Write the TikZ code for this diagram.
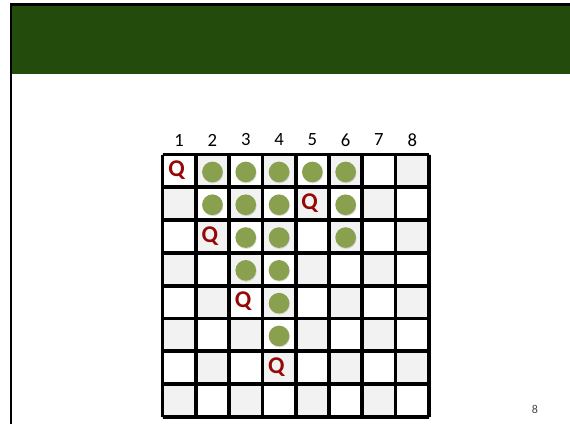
\documentclass[tikz,border=0pt]{standalone}
\usepackage{fontspec}
\setmainfont{Carlito}
\usepackage{xcolor}
\definecolor{cabecalho}{RGB}{34,75,12}
\definecolor{oliva}{RGB}{137,160,78}
\definecolor{rainha}{RGB}{150,8,8}
\definecolor{casa}{RGB}{242,242,242}
\definecolor{cinza}{RGB}{70,70,70}
\usepackage{tikz}
\usetikzlibrary{shadows}

\begin{document}
\begin{tikzpicture}[
    x=0.75pt, y=-0.75pt,
    bloqueio/.style={
      circle, fill=oliva, minimum size=15.5pt, inner sep=0pt,
      drop shadow={opacity=0.25, shadow xshift=0.4pt, shadow yshift=-0.8pt}
    },
    queen/.style={font=\fontsize{18}{18}\selectfont\bfseries, color=rainha, inner sep=0pt},
    coluna/.style={font=\fontsize{14}{14}\selectfont, inner sep=0pt},
    grade/.style={line width=2.8pt, color=black}
  ]
  \useasboundingbox (0,0) rectangle (570,424);
  \def\bx{162.5}\def\by{154.5}\def\cw{33.3}\def\ch{32.8}

  % Slide frame and header
  \fill[cabecalho] (11,5) rectangle (570,74);
  \draw[line width=1.6pt] (11,424) -- (11,4.5) -- (570,4.5);

  % Board cells
  \foreach \r in {1,...,8}
    \foreach \c in {1,...,8} {
      \pgfmathtruncatemacro{\paridade}{mod(\r+\c,2)}
      \ifnum\paridade=1 \def\cor{casa}\else \def\cor{white}\fi
      \draw[fill=\cor, draw=gray!35, line width=0.4pt]
        ({\bx+(\c-1)*\cw},{\by+(\r-1)*\ch}) rectangle ++(\cw,\ch);
      \coordinate (c\r-\c) at ({\bx+(\c-0.5)*\cw},{\by+(\r-0.5)*\ch});
    }

  % Grid lines
  \foreach \i in {0,...,8} {
    \draw[grade] ({\bx+\i*\cw},\by) -- ({\bx+\i*\cw},{\by+8*\ch});
    \draw[grade] (\bx,{\by+\i*\ch}) -- ({\bx+8*\cw},{\by+\i*\ch});
  }

  % Column numbers
  \foreach \c in {1,...,8}
    \node[coluna] (n\c) at ({\bx+(\c-0.5)*\cw},140) {\c};

  % Attacked squares
  \foreach \r/\c in {1/2,1/3,1/4,1/5,1/6,2/2,2/3,2/4,2/6,
                     3/3,3/4,3/6,4/3,4/4,5/4,6/4}
    \node[bloqueio] (b\r-\c) at ([yshift=-0.8pt]c\r-\c) {};

  % Queens
  \foreach \r/\c in {1/1,2/5,3/2,5/3,7/4}
    \node[queen] (q\r-\c) at ([xshift=-2pt,yshift=0.5pt]c\r-\c) {Q};

  % Page number
  \node[font=\fontsize{9}{9}\selectfont, color=cinza] (pagina) at (535,409) {8};

\end{tikzpicture}
\end{document}
